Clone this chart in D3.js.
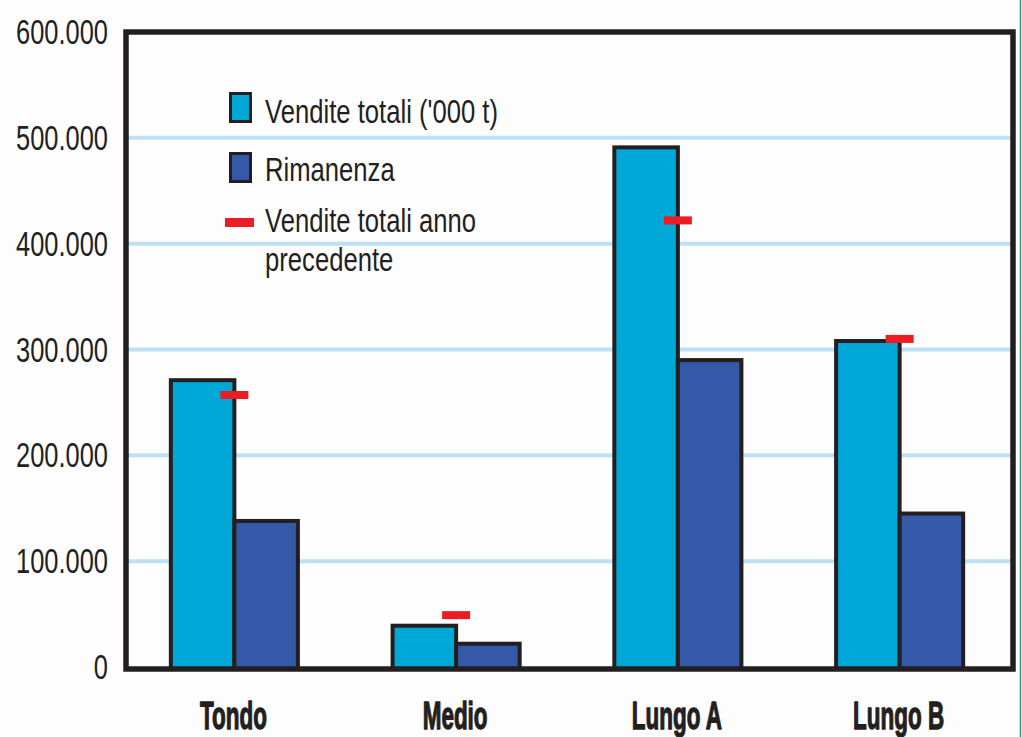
<!DOCTYPE html>
<html>
<head>
<meta charset="utf-8">
<script src="https://cdn.jsdelivr.net/npm/d3@7"></script>
<style>
  html, body { margin: 0; padding: 0; background: #fdfdfd; }
  svg { display: block; }
</style>
</head>
<body>
<svg id="chart" width="1022" height="737"></svg>
<script>
const categories = ["Tondo", "Medio", "Lungo A", "Lungo B"];
const venditeTotali = [271000, 39000, 491000, 308000];
const rimanenza = [138000, 22000, 290000, 145000];
const venditePrecedente = [257000, 49000, 422000, 310000];
const yTicks = [0, 100000, 200000, 300000, 400000, 500000, 600000];
const tickLabels = ["0", "100.000", "200.000", "300.000", "400.000", "500.000", "600.000"];
const legendLabels = ["Vendite totali ('000 t)", "Rimanenza", "Vendite totali anno", "precedente"];

const C_LIGHT = "#00a8d8", C_DARK = "#3359a8", C_RED = "#ed1c24", C_INK = "#231f20", C_GRID = "#bde0f6";
const FONT = "'Liberation Sans Narrow', 'Liberation Sans', Arial, sans-serif";

const svg = d3.select("#chart");
const pL = 126, pR = 1013, pT = 32, pB = 667;

const y = d3.scaleLinear().domain([0, 600000]).range([pB, pT]);
const x = d3.scaleBand().domain(categories).range([123.5, 1010.5]).paddingInner(0.427).paddingOuter(0.2135);
const sub = d3.scaleBand().domain(["v", "r"]).range([0, x.bandwidth()]).padding(0);

// helper: horizontal scale so that a reference string fits a target width
function fitScale(str, size, weight, target) {
  const t = svg.append("text").attr("font-family", FONT).attr("font-size", size)
    .attr("font-weight", weight).text(str);
  const w = t.node().getComputedTextLength();
  t.remove();
  return w > 0 ? target / w : 1;
}

// teal edge line
svg.append("line").attr("x1", 1020.5).attr("x2", 1020.5).attr("y1", 0).attr("y2", 737)
  .attr("stroke", "#22a58c").attr("stroke-width", 1.6);

// gridlines
svg.append("g").selectAll("line").data(yTicks.filter(d => d > 0 && d < 600000)).join("line")
  .attr("x1", pL).attr("x2", pR).attr("y1", d => y(d)).attr("y2", d => y(d))
  .attr("stroke", C_GRID).attr("stroke-width", 4);

// y tick labels
const sy = fitScale("600.000", 35, "normal", 92);
svg.append("g").selectAll("text").data(yTicks).join("text")
  .attr("transform", d => `translate(108,${y(d) + 12}) scale(${sy},1)`)
  .attr("text-anchor", "end").attr("font-family", FONT).attr("font-size", 35)
  .attr("fill", C_INK).text((d, i) => tickLabels[i]);

// bars
const groups = svg.append("g").selectAll("g").data(categories).join("g")
  .attr("transform", d => `translate(${x(d)},0)`);

groups.append("rect")
  .attr("x", sub("v")).attr("width", sub.bandwidth())
  .attr("y", (d, i) => y(venditeTotali[i])).attr("height", (d, i) => y(0) - y(venditeTotali[i]) + 2)
  .attr("fill", C_LIGHT).attr("stroke", C_INK).attr("stroke-width", 4);

groups.append("rect")
  .attr("x", sub("r")).attr("width", sub.bandwidth())
  .attr("y", (d, i) => y(rimanenza[i])).attr("height", (d, i) => y(0) - y(rimanenza[i]) + 2)
  .attr("fill", C_DARK).attr("stroke", C_INK).attr("stroke-width", 4);

// previous-year markers
groups.append("rect")
  .attr("x", x.bandwidth() / 2 - 14).attr("width", 28)
  .attr("y", (d, i) => y(venditePrecedente[i]) - 4).attr("height", 8)
  .attr("fill", C_RED);

// frame
svg.append("rect").attr("x", pL).attr("y", pT).attr("width", pR - pL).attr("height", pB + 2 - pT)
  .attr("fill", "none").attr("stroke", C_INK).attr("stroke-width", 5.5);

// category labels
const sc = fitScale("Tondo", 39, "bold", 67);
svg.append("g").selectAll("text").data(categories).join("text")
  .attr("transform", d => `translate(${x(d) + x.bandwidth() / 2 - 1},729) scale(${sc},1)`)
  .attr("text-anchor", "middle").attr("font-family", FONT).attr("font-weight", "bold")
  .attr("font-size", 39).attr("fill", C_INK)
  .attr("stroke", C_INK).attr("stroke-width", 1.3).attr("stroke-linejoin", "round")
  .text(d => d);

// legend
const lg = svg.append("g");
lg.append("rect").attr("x", 230.5).attr("y", 93.5).attr("width", 20).attr("height", 28)
  .attr("fill", C_LIGHT).attr("stroke", C_INK).attr("stroke-width", 3);
lg.append("rect").attr("x", 230.5).attr("y", 153.5).attr("width", 20).attr("height", 28)
  .attr("fill", C_DARK).attr("stroke", C_INK).attr("stroke-width", 3);
lg.append("rect").attr("x", 225).attr("y", 218).attr("width", 29).attr("height", 9).attr("fill", C_RED);
const legendY = [123, 181, 232, 271];
const sl = fitScale(legendLabels[0], 34, "normal", 233);
lg.selectAll("text").data(legendLabels).join("text")
  .attr("transform", (d, i) => `translate(265,${legendY[i]}) scale(${sl},1)`)
  .attr("font-family", FONT).attr("font-size", 34).attr("fill", C_INK).text(d => d);
</script>
</body>
</html>
